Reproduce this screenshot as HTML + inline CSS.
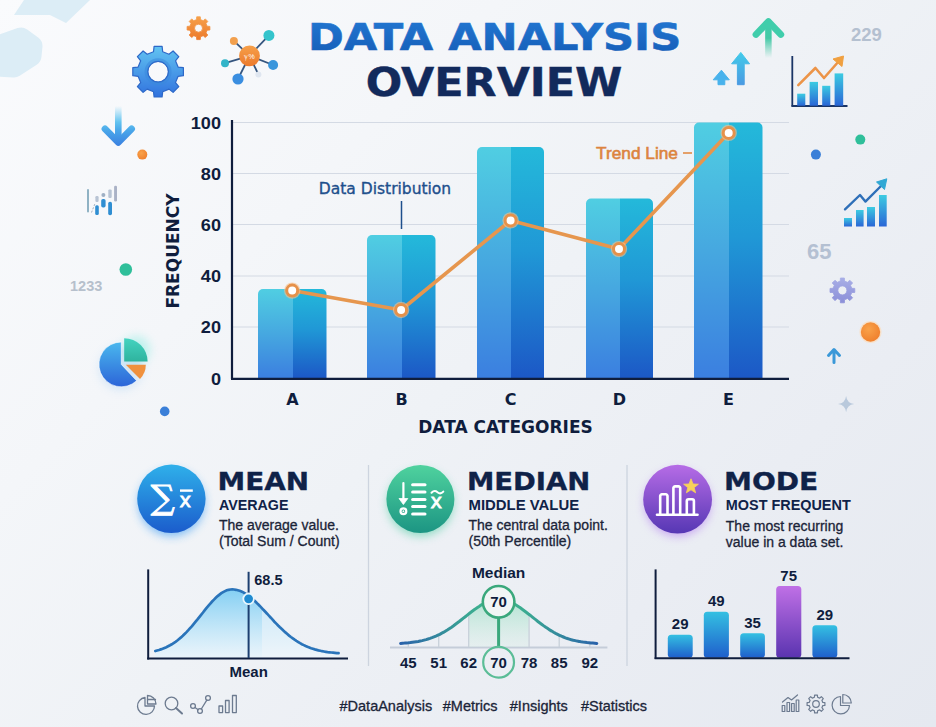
<!DOCTYPE html>
<html><head><meta charset="utf-8"><title>Data Analysis Overview</title>
<style>
html,body{margin:0;padding:0;}
body{width:936px;height:727px;overflow:hidden;background:#eef1f5;}
#root{position:relative;width:936px;height:727px;overflow:hidden;
 background:linear-gradient(135deg,#fafbfd 0%,#f4f6f9 30%,#eff2f6 50%,#eaedf3 75%,#e5e9f0 100%);}
svg{position:absolute;left:0;top:0;}
.h{font-family:"DejaVu Sans",sans-serif;font-weight:700;}
.l{font-family:"Liberation Sans",sans-serif;}
</style></head>
<body><div id="root">
<svg width="936" height="727" viewBox="0 0 936 727">
<defs>
 <linearGradient id="tg" gradientUnits="userSpaceOnUse" x1="0" y1="-28" x2="0" y2="0"><stop offset="0" stop-color="#2174cf"/><stop offset="1" stop-color="#1762bc"/></linearGradient>
 <linearGradient id="barL" x1="0" y1="0" x2="0" y2="1"><stop offset="0" stop-color="#50cee2"/><stop offset="0.5" stop-color="#46a8e0"/><stop offset="1" stop-color="#3b7fe0"/></linearGradient>
 <linearGradient id="barR" x1="0" y1="0" x2="0" y2="1"><stop offset="0" stop-color="#24b9da"/><stop offset="0.45" stop-color="#2098d6"/><stop offset="1" stop-color="#1c58c6"/></linearGradient>
 <linearGradient id="gBlue" x1="0" y1="0" x2="0" y2="1"><stop offset="0" stop-color="#2fb0ea"/><stop offset="1" stop-color="#1b5ccc"/></linearGradient>
 <linearGradient id="gGreen" x1="0" y1="0" x2="0" y2="1"><stop offset="0" stop-color="#4fd29e"/><stop offset="1" stop-color="#1c9583"/></linearGradient>
 <linearGradient id="gPurple" x1="0" y1="0" x2="0" y2="1"><stop offset="0" stop-color="#b66ce6"/><stop offset="1" stop-color="#5637b4"/></linearGradient>
 <linearGradient id="mbar" x1="0" y1="0" x2="0" y2="1"><stop offset="0" stop-color="#34c0e2"/><stop offset="1" stop-color="#1f5fcc"/></linearGradient>
 <linearGradient id="mbarP" x1="0" y1="0" x2="0" y2="1"><stop offset="0" stop-color="#c070e6"/><stop offset="1" stop-color="#5a34b0"/></linearGradient>
 <linearGradient id="icoBar" x1="0" y1="0" x2="0" y2="1"><stop offset="0" stop-color="#3ccbe2"/><stop offset="1" stop-color="#2a66d6"/></linearGradient>
 <linearGradient id="gearB" x1="0" y1="0" x2="0" y2="1"><stop offset="0" stop-color="#62c4f2"/><stop offset="1" stop-color="#3172de"/></linearGradient>
 <linearGradient id="gearO" x1="0" y1="0" x2="0" y2="1"><stop offset="0" stop-color="#f6a04a"/><stop offset="1" stop-color="#ec7a2c"/></linearGradient>
 <linearGradient id="arrG" gradientUnits="userSpaceOnUse" x1="0" y1="22" x2="0" y2="58"><stop offset="0" stop-color="#40cdab"/><stop offset="0.45" stop-color="#44c9a6"/><stop offset="1" stop-color="#5ccdb0" stop-opacity="0"/></linearGradient>
 <linearGradient id="arrB" x1="0" y1="0" x2="0" y2="1"><stop offset="0" stop-color="#42cbea"/><stop offset="1" stop-color="#4a9ae2"/></linearGradient>
 <linearGradient id="arrD" gradientUnits="userSpaceOnUse" x1="0" y1="106" x2="0" y2="146"><stop offset="0" stop-color="#6ccaf2" stop-opacity="0"/><stop offset="0.4" stop-color="#64c4f0"/><stop offset="0.6" stop-color="#4aa8ea"/><stop offset="1" stop-color="#3a80e0"/></linearGradient>
 <linearGradient id="bellB" x1="0" y1="0" x2="0" y2="1"><stop offset="0" stop-color="#78cbf2" stop-opacity="0.85"/><stop offset="1" stop-color="#e6f3fb" stop-opacity="0.5"/></linearGradient>
 <linearGradient id="bellB2" x1="0" y1="0" x2="0" y2="1"><stop offset="0" stop-color="#c4e6f8"/><stop offset="1" stop-color="#eef5fa"/></linearGradient>
 <linearGradient id="bellG" x1="0" y1="0" x2="0" y2="1"><stop offset="0" stop-color="#7ed9b4" stop-opacity="0.55"/><stop offset="1" stop-color="#cdeedd" stop-opacity="0.2"/></linearGradient>
 <linearGradient id="medCurve" x1="0" y1="0" x2="1" y2="0"><stop offset="0" stop-color="#2a62aa"/><stop offset="0.35" stop-color="#3aa892"/><stop offset="0.5" stop-color="#3fba8a"/><stop offset="0.65" stop-color="#3aa892"/><stop offset="1" stop-color="#2a62aa"/></linearGradient>
 <linearGradient id="pieB" x1="0" y1="0" x2="0" y2="1"><stop offset="0" stop-color="#4ab8ee"/><stop offset="1" stop-color="#2c64d8"/></linearGradient>
 <linearGradient id="pieT" x1="0" y1="0" x2="0" y2="1"><stop offset="0" stop-color="#44d3c0"/><stop offset="1" stop-color="#2fb39e"/></linearGradient>
 <linearGradient id="gearP" x1="0" y1="0" x2="0" y2="1"><stop offset="0" stop-color="#a8aee6"/><stop offset="1" stop-color="#8b8fd8"/></linearGradient>
 <radialGradient id="dotO" cx="0.4" cy="0.35" r="0.7"><stop offset="0" stop-color="#f9a24a"/><stop offset="1" stop-color="#ef7f2c"/></radialGradient>
 <filter id="sh" x="-50%" y="-50%" width="200%" height="200%"><feGaussianBlur stdDeviation="5"/></filter>
 <filter id="blur2" x="-50%" y="-50%" width="200%" height="200%"><feGaussianBlur stdDeviation="2"/></filter>
</defs>

<!-- faint top-left shapes -->
<path d="M24 0 L90 0 L66 23 L50 15 L14 15 Z" fill="#dcedf6"/>
<path d="M-2 46 L21 38 L32 46 L31 56 L14 67 L-2 66 Z" fill="#dcedf6" stroke="#dcedf6" stroke-width="21" stroke-linejoin="round"/>


<!-- DECORATIONS top-left -->
<path d="M153.5 51.7 L154.1 46.4 L162.1 46.4 L162.7 51.7 L169.0 54.3 L173.1 51.0 L178.8 56.7 L175.5 60.8 L178.1 67.1 L183.4 67.7 L183.4 75.7 L178.1 76.3 L175.5 82.6 L178.8 86.7 L173.1 92.4 L169.0 89.1 L162.7 91.7 L162.1 97.0 L154.1 97.0 L153.5 91.7 L147.2 89.1 L143.1 92.4 L137.4 86.7 L140.7 82.6 L138.1 76.3 L132.8 75.7 L132.8 67.7 L138.1 67.1 L140.7 60.8 L137.4 56.7 L143.1 51.0 L147.2 54.3 Z M168.4 71.7 a10.3 10.3 0 1 0 -20.6 0 a10.3 10.3 0 1 0 20.6 0 Z" fill="url(#gearB)" fill-rule="evenodd" stroke="#2d68c8" stroke-width="1.2" stroke-linejoin="round"/>
<circle cx="158.1" cy="71.7" r="12" fill="none" stroke="#3a88dc" stroke-width="3" opacity="0.55"/>
<circle cx="158.1" cy="71.7" r="10.3" fill="none" stroke="#2d68c8" stroke-width="0.8" opacity="0.7"/>
<path d="M196.5 19.6 L196.7 16.8 L200.3 16.8 L200.5 19.6 L203.2 20.7 L205.3 18.9 L207.8 21.4 L206.0 23.5 L207.1 26.2 L209.9 26.4 L209.9 30.0 L207.1 30.2 L206.0 32.9 L207.8 35.0 L205.3 37.5 L203.2 35.7 L200.5 36.8 L200.3 39.6 L196.7 39.6 L196.5 36.8 L193.8 35.7 L191.7 37.5 L189.2 35.0 L191.0 32.9 L189.9 30.2 L187.1 30.0 L187.1 26.4 L189.9 26.2 L191.0 23.5 L189.2 21.4 L191.7 18.9 L193.8 20.7 Z M202.5 28.2 a4.0 4.0 0 1 0 -8.0 0 a4.0 4.0 0 1 0 8.0 0 Z" fill="url(#gearO)" fill-rule="evenodd" stroke="url(#gearO)" stroke-width="0.8" stroke-linejoin="round"/>
<!-- network -->
<g stroke="#35557f" stroke-width="1.8">
 <line x1="249.5" y1="55.8" x2="233.9" y2="40.9"/><line x1="249.5" y1="55.8" x2="268.9" y2="35.4"/>
 <line x1="249.5" y1="55.8" x2="225" y2="63.2"/><line x1="249.5" y1="55.8" x2="273.1" y2="65"/>
 <line x1="249.5" y1="55.8" x2="238" y2="79"/><line x1="249.5" y1="55.8" x2="258.4" y2="74.5"/>
</g>
<circle cx="233.9" cy="40.9" r="4" fill="#f2a04e"/>
<circle cx="268.9" cy="35.4" r="5.5" fill="#35c4cc"/>
<circle cx="225" cy="63.2" r="4" fill="#32b4c8"/>
<circle cx="273.1" cy="65" r="5" fill="#3a96dc"/>
<circle cx="238" cy="79" r="5.6" fill="#3a8ee0"/>
<circle cx="258.4" cy="74.5" r="3" fill="#dfe6f0"/>
<circle cx="249.5" cy="55.8" r="10.4" fill="url(#gearO)"/>
<text x="249.5" y="58.8" text-anchor="middle" class="l" font-size="7" fill="#fff">ℽ%</text>
<!-- down arrow -->
<path d="M118.3 106 V140" fill="none" stroke="url(#arrD)" stroke-width="6.6"/>
<path d="M105 128.8 L118.3 142.3 L131.6 128.8" fill="none" stroke="url(#arrD)" stroke-width="6.8" stroke-linecap="round" stroke-linejoin="round"/>
<path d="M111.5 135.5 L118.3 142.3 L125.1 135.5 Z" fill="url(#arrD)"/>
<circle cx="142.3" cy="154.6" r="5" fill="url(#dotO)"/>
<!-- small bar icon -->
<line x1="88" y1="190" x2="88" y2="211.5" stroke="#8fb2c4" stroke-width="2" stroke-linecap="round"/>
<rect x="95.4" y="196" width="3.2" height="6" rx="1.2" fill="#b8c4d4"/>
<rect x="95.2" y="205.3" width="3.6" height="9.8" rx="1.5" fill="#2f8ed2"/>
<circle cx="103.4" cy="195" r="2" fill="#9fb0c4"/>
<rect x="101.2" y="199" width="4.4" height="8.5" rx="1.8" fill="#2f8ed2"/>
<rect x="108.3" y="189.4" width="3.4" height="8.6" rx="1.2" fill="#b8c4d4"/>
<rect x="108.2" y="201.7" width="3.8" height="13.5" rx="1.8" fill="#2f8ed2"/>
<rect x="114.1" y="185.8" width="2.9" height="15.7" rx="1.3" fill="#aab2c6"/>
<line x1="91.5" y1="212.5" x2="95" y2="203.5" stroke="#a0b0c0" stroke-width="1" stroke-dasharray="2 1.5"/>
<!-- left numbers & dots -->
<circle cx="125.8" cy="269.5" r="6.3" fill="#2fbf9a"/>
<text x="70" y="291" class="l" font-size="14.5" font-weight="700" fill="#b6c0cc">1233</text>
<!-- pie -->
<circle cx="136" cy="350" r="14" fill="#5ee8d8" opacity="0.35" filter="url(#sh)"/>
<circle cx="121" cy="368" r="22" fill="#7ab8f0" opacity="0.25" filter="url(#sh)"/>
<path d="M121.3 364.4 L121.3 342 A22.4 22.4 0 1 0 136.6 380.8 Z" fill="url(#pieB)" stroke="#fff" stroke-width="0.6"/>
<path d="M124.2 361.5 L124.2 338.2 A23.4 23.4 0 0 1 147.6 361.5 Z" fill="url(#pieT)"/>
<path d="M125.8 364.8 L145.8 364.8 A20 20 0 0 1 140 378.9 Z" fill="#f0913e"/>
<circle cx="164.7" cy="411.4" r="4.8" fill="#3a7fd8"/>

<!-- DECORATIONS top-right -->
<path d="M768.4 58 V26" fill="none" stroke="url(#arrG)" stroke-width="6.5"/>
<path d="M756 34.5 L768.4 21.5 L780.8 34.5" fill="none" stroke="#40cdab" stroke-width="6.8" stroke-linecap="round" stroke-linejoin="round"/>
<path d="M762 28 L768.4 21.5 L774.8 28 Z" fill="#40cdab"/>
<path d="M740.8 52.4 L749.6 63.8 L744.2 63.8 L744.2 84.7 L737.4 84.7 L737.4 63.8 L731.6 63.8 Z" fill="url(#arrB)" stroke="url(#arrB)" stroke-width="1" stroke-linejoin="round"/>
<path d="M721.4 70.2 L729.3 79.8 L724.8 79.8 L724.8 84.7 L718 84.7 L718 79.8 L713.2 79.8 Z" fill="#48b2ec" stroke="#48b2ec" stroke-width="1" stroke-linejoin="round"/>
<text x="851" y="41.3" class="l" font-size="18.5" font-weight="700" fill="#b4c0d0">229</text>
<line x1="792.3" y1="56" x2="792.3" y2="106.5" stroke="#1a3566" stroke-width="1.8"/>
<line x1="791.5" y1="106" x2="847.5" y2="106" stroke="#1a3566" stroke-width="1.8"/>
<rect x="797.2" y="93.7" width="8.1" height="12" fill="url(#icoBar)"/>
<rect x="809.6" y="81.9" width="8.4" height="23.8" fill="url(#icoBar)"/>
<rect x="822.2" y="85.8" width="8.1" height="19.9" fill="url(#icoBar)"/>
<rect x="834.6" y="73.4" width="8.6" height="32.3" fill="url(#icoBar)"/>
<polyline points="798.3,85.1 815.4,68 824,78 839,61" fill="none" stroke="#ec9448" stroke-width="2.6" stroke-linejoin="round" stroke-linecap="round"/>
<path d="M843.5 56 L842 66.5 L833 59 Z" fill="#f0a040" stroke="#f0a040" stroke-width="1" stroke-linejoin="round"/>

<!-- right side -->
<circle cx="860.3" cy="139.6" r="5" fill="#2fbf9a"/>
<circle cx="815.9" cy="154.6" r="5" fill="#3a7fd8"/>
<rect x="844" y="218" width="8" height="8.5" fill="url(#icoBar)"/>
<rect x="856" y="210" width="7.6" height="16.5" fill="url(#icoBar)"/>
<rect x="867" y="207" width="8" height="19.5" fill="url(#icoBar)"/>
<rect x="879" y="195" width="7.7" height="31.5" fill="url(#icoBar)"/>
<polyline points="845,209.3 860,195 865.4,201.6 881,186" fill="none" stroke="#2e6fb8" stroke-width="2.4" stroke-linejoin="round" stroke-linecap="round"/>
<path d="M886.8 178.8 L884.5 189.5 L876.5 182 Z" fill="#30a8d4" stroke="#30a8d4" stroke-width="1" stroke-linejoin="round"/>
<text x="807" y="259" class="l" font-size="22" font-weight="700" fill="#b4c0d2">65</text>
<path d="M840.3 281.0 L840.4 278.0 L844.4 278.0 L844.5 281.0 L847.5 282.3 L849.8 280.2 L852.6 283.0 L850.5 285.3 L851.8 288.3 L854.8 288.4 L854.8 292.4 L851.8 292.5 L850.5 295.5 L852.6 297.8 L849.8 300.6 L847.5 298.5 L844.5 299.8 L844.4 302.8 L840.4 302.8 L840.3 299.8 L837.3 298.5 L835.0 300.6 L832.2 297.8 L834.3 295.5 L833.0 292.5 L830.0 292.4 L830.0 288.4 L833.0 288.3 L834.3 285.3 L832.2 283.0 L835.0 280.2 L837.3 282.3 Z M846.9 290.4 a4.5 4.5 0 1 0 -9.0 0 a4.5 4.5 0 1 0 9.0 0 Z" fill="url(#gearP)" fill-rule="evenodd" stroke="url(#gearP)" stroke-width="0.8" stroke-linejoin="round"/>
<circle cx="870.5" cy="332" r="11" fill="#ffd9b0" opacity="0.6"/>
<circle cx="870.5" cy="332" r="9.7" fill="url(#dotO)"/>
<path d="M834 362.5 V351 M828.5 355.5 L834 349.5 L839.5 355.5" fill="none" stroke="#3a98d8" stroke-width="3" stroke-linecap="round" stroke-linejoin="round"/>
<path d="M846.1 396 Q847 403.2 854.2 404.1 Q847 405 846.1 412.2 Q845.2 405 838 404.1 Q845.2 403.2 846.1 396 Z" fill="#b9c9dc"/>

<!-- TITLE -->
<text transform="translate(494.6 49.8) scale(1.15 1)" text-anchor="middle" class="h" font-size="37.5" stroke="url(#tg)" stroke-width="0.6" fill="url(#tg)">DATA ANALYSIS</text>
<text transform="translate(494.1 96.2) scale(1.1 1)" text-anchor="middle" class="h" font-size="39" stroke="#122a5c" stroke-width="0.4" fill="#122a5c">OVERVIEW</text>

<!-- MAIN CHART -->
<g stroke="#d4dae4" stroke-width="1.15">
 <line x1="232" y1="122.5" x2="789" y2="122.5"/>
 <line x1="232" y1="173.5" x2="789" y2="173.5"/>
 <line x1="232" y1="224.5" x2="789" y2="224.5"/>
 <line x1="232" y1="276" x2="789" y2="276"/>
 <line x1="232" y1="327" x2="789" y2="327"/>
</g>
<g id="bars">
 <path d="M258 378 V294 a5 5 0 0 1 5 -5 H293 V378 Z" fill="url(#barL)"/>
 <path d="M293 378 V289 H321.5 a5 5 0 0 1 5 5 V378 Z" fill="url(#barR)"/>
 <path d="M367 378 V240 a5 5 0 0 1 5 -5 H402 V378 Z" fill="url(#barL)"/>
 <path d="M402 378 V235 H430.5 a5 5 0 0 1 5 5 V378 Z" fill="url(#barR)"/>
 <path d="M477 378 V152 a5 5 0 0 1 5 -5 H511 V378 Z" fill="url(#barL)"/>
 <path d="M511 378 V147 H539 a5 5 0 0 1 5 5 V378 Z" fill="url(#barR)"/>
 <path d="M586 378 V203.5 a5 5 0 0 1 5 -5 H620 V378 Z" fill="url(#barL)"/>
 <path d="M620 378 V198.5 H648 a5 5 0 0 1 5 5 V378 Z" fill="url(#barR)"/>
 <path d="M694 378 V127.5 a5 5 0 0 1 5 -5 H729 V378 Z" fill="url(#barL)"/>
 <path d="M729 378 V122.5 H757.5 a5 5 0 0 1 5 5 V378 Z" fill="url(#barR)"/>
</g>
<line x1="232" y1="120" x2="232" y2="379" stroke="#0f1d3d" stroke-width="2.2"/>
<line x1="231" y1="378.8" x2="789" y2="378.8" stroke="#0f1d3d" stroke-width="2.2"/>
<!-- y labels -->
<g class="l" font-weight="700" font-size="16.5" fill="#0f1d3d" text-anchor="end">
 <text transform="translate(221 128.6) scale(1.1 1)">100</text>
 <text transform="translate(221 179.6) scale(1.1 1)">80</text>
 <text transform="translate(221 230.7) scale(1.1 1)">60</text>
 <text transform="translate(221 282.2) scale(1.1 1)">40</text>
 <text transform="translate(221 333.3) scale(1.1 1)">20</text>
 <text transform="translate(221 384.5) scale(1.1 1)">0</text>
</g>
<text transform="translate(179 251) rotate(-90)" text-anchor="middle" class="h" font-size="17" fill="#0f1d3d">FREQUENCY</text>
<g class="h" font-size="16" fill="#0f1d3d" text-anchor="middle">
 <text x="292.5" y="405">A</text><text x="401.5" y="405">B</text><text x="510.5" y="405">C</text><text x="619.5" y="405">D</text><text x="728.5" y="405">E</text>
</g>
<text x="505.5" y="433" text-anchor="middle" class="h" font-size="17" fill="#0f1d3d">DATA CATEGORIES</text>
<text x="385" y="194" text-anchor="middle" font-family="DejaVu Sans" font-size="15.5" fill="#1d4f8c" stroke="#1d4f8c" stroke-width="0.35">Data Distribution</text>
<line x1="401.5" y1="201" x2="401.5" y2="229" stroke="#1d4f8c" stroke-width="1.5"/>
<text x="596" y="158.5" class="l" font-size="17.3" fill="#dc843e" stroke="#dc843e" stroke-width="0.6">Trend Line</text>
<line x1="683" y1="153" x2="692" y2="153" stroke="#e0843a" stroke-width="1.5"/>
<!-- trend line -->
<polyline points="292.2,290.6 401.1,310 510.6,220.4 619,249.1 728.7,132.9" fill="none" stroke="#e6964e" stroke-width="3.6" stroke-linejoin="round"/>
<g fill="#f9c08a" opacity="0.6"><circle cx="292.2" cy="290.6" r="8.2"/><circle cx="401.1" cy="310" r="8.2"/><circle cx="510.6" cy="220.4" r="8.2"/><circle cx="619" cy="249.1" r="8.2"/><circle cx="728.7" cy="132.9" r="8.2"/></g>
<g fill="#fff" stroke="#e6914a" stroke-width="3">
 <circle cx="292.2" cy="290.6" r="5.5"/><circle cx="401.1" cy="310" r="5.5"/><circle cx="510.6" cy="220.4" r="5.5"/><circle cx="619" cy="249.1" r="5.5"/><circle cx="728.7" cy="132.9" r="5.5"/>
</g>

<!-- BOTTOM PANELS -->
<line x1="368.5" y1="465" x2="368.5" y2="666" stroke="#cdd4df" stroke-width="1.3"/>
<line x1="627" y1="465" x2="627" y2="666" stroke="#cdd4df" stroke-width="1.3"/>

<!-- MEAN -->
<circle cx="171.5" cy="503" r="33" fill="#2f95f2" opacity="0.6" filter="url(#sh)"/>
<circle cx="171.4" cy="498.8" r="34.2" fill="url(#gBlue)"/>
<text x="150.8" y="509" font-family="DejaVu Serif" font-size="33.5" fill="#fff" stroke="#fff" stroke-width="0.9">∑</text>
<line x1="180" y1="490.6" x2="192.8" y2="490.6" stroke="#fff" stroke-width="2.4"/>
<text x="179.5" y="507" font-family="DejaVu Sans" font-size="19.5" fill="#fff" stroke="#fff" stroke-width="0.8">x</text>
<text transform="translate(217.5 490) scale(1.1 1)" class="h" font-size="25.3" fill="#0f2248" stroke="#0f2248" stroke-width="0.35">MEAN</text>
<text transform="translate(219 510) scale(1.02 1)" class="l" font-weight="700" font-size="14" fill="#0f2248">AVERAGE</text>
<text x="219" y="529.7" class="l" font-size="14" fill="#1b2438" stroke="#1b2438" stroke-width="0.3">The average value.</text>
<text x="219" y="545.7" class="l" font-size="14" fill="#1b2438" stroke="#1b2438" stroke-width="0.3">(Total Sum / Count)</text>

<!-- MEDIAN -->
<circle cx="420.4" cy="503" r="33" fill="#3cc898" opacity="0.55" filter="url(#sh)"/>
<circle cx="420.4" cy="499" r="34" fill="url(#gGreen)"/>
<text transform="translate(467 490) scale(1.085 1)" class="h" font-size="25.3" fill="#0f2248" stroke="#0f2248" stroke-width="0.35">MEDIAN</text>
<text transform="translate(468.5 510) scale(1.065 1)" class="l" font-weight="700" font-size="14" fill="#0f2248">MIDDLE VALUE</text>
<text x="468.5" y="529.7" class="l" font-size="14" fill="#1b2438" stroke="#1b2438" stroke-width="0.3">The central data point.</text>
<text x="468.5" y="545.7" class="l" font-size="14" fill="#1b2438" stroke="#1b2438" stroke-width="0.3">(50th Percentile)</text>

<!-- MODE -->
<circle cx="677.6" cy="503" r="33" fill="#a866ee" opacity="0.55" filter="url(#sh)"/>
<circle cx="677.6" cy="499.2" r="34.4" fill="url(#gPurple)"/>
<text transform="translate(724 490) scale(1.11 1)" class="h" font-size="25.3" fill="#0f2248" stroke="#0f2248" stroke-width="0.35">MODE</text>
<text transform="translate(725.8 510.1) scale(1.03 1)" class="l" font-weight="700" font-size="14" fill="#0f2248">MOST FREQUENT</text>
<text x="725.8" y="530.5" class="l" font-size="14" fill="#1b2438" stroke="#1b2438" stroke-width="0.3">The most recurring</text>
<text x="725.8" y="546.5" class="l" font-size="14" fill="#1b2438" stroke="#1b2438" stroke-width="0.3">value in a data set.</text>


<!-- mean icon: replaced -->
<!-- MEAN mini chart -->
<clipPath id="cpL"><rect x="150" y="560" width="112" height="100"/></clipPath>
<path d="M155.3 651.0 L157.1 650.5 L159.0 650.0 L160.8 649.4 L162.6 648.8 L164.5 648.0 L166.3 647.2 L168.1 646.3 L170.0 645.3 L171.8 644.3 L173.6 643.1 L175.5 641.8 L177.3 640.5 L179.1 639.0 L181.0 637.4 L182.8 635.8 L184.6 634.0 L186.5 632.1 L188.3 630.2 L190.1 628.2 L192.0 626.1 L193.8 623.9 L195.6 621.7 L197.5 619.4 L199.3 617.1 L201.1 614.8 L203.0 612.5 L204.8 610.2 L206.6 607.9 L208.5 605.7 L210.3 603.6 L212.1 601.5 L214.0 599.6 L215.8 597.8 L217.6 596.1 L219.5 594.6 L221.3 593.2 L223.1 592.1 L225.0 591.1 L226.8 590.3 L228.6 589.8 L230.5 589.5 L232.3 589.4 L234.1 589.5 L236.0 589.8 L237.8 590.2 L239.6 590.8 L241.5 591.5 L243.3 592.4 L245.1 593.5 L247.0 594.7 L248.8 596.0 L250.6 597.4 L252.4 598.9 L254.3 600.6 L256.1 602.3 L257.9 604.1 L259.8 605.9 L261.6 607.8 L263.4 609.8 L265.3 611.8 L267.1 613.7 L268.9 615.7 L270.8 617.7 L272.6 619.7 L274.4 621.7 L276.3 623.6 L278.1 625.5 L279.9 627.3 L281.8 629.1 L283.6 630.8 L285.4 632.4 L287.3 634.0 L289.1 635.6 L290.9 637.0 L292.8 638.4 L294.6 639.7 L296.4 640.9 L298.3 642.1 L300.1 643.2 L301.9 644.2 L303.8 645.1 L305.6 646.0 L307.4 646.8 L309.3 647.5 L311.1 648.2 L312.9 648.8 L314.8 649.4 L316.6 649.9 L318.4 650.4 L320.3 650.8 L322.1 651.2 L323.9 651.5 L325.8 651.8 L327.6 652.1 L329.4 652.3 L331.3 652.5 L333.1 652.7 L334.9 652.9 L336.8 653.1 L338.6 653.2 L338.6 658 L155.3 658 Z" fill="url(#bellB2)"/>
<path d="M155.3 651.0 L157.1 650.5 L159.0 650.0 L160.8 649.4 L162.6 648.8 L164.5 648.0 L166.3 647.2 L168.1 646.3 L170.0 645.3 L171.8 644.3 L173.6 643.1 L175.5 641.8 L177.3 640.5 L179.1 639.0 L181.0 637.4 L182.8 635.8 L184.6 634.0 L186.5 632.1 L188.3 630.2 L190.1 628.2 L192.0 626.1 L193.8 623.9 L195.6 621.7 L197.5 619.4 L199.3 617.1 L201.1 614.8 L203.0 612.5 L204.8 610.2 L206.6 607.9 L208.5 605.7 L210.3 603.6 L212.1 601.5 L214.0 599.6 L215.8 597.8 L217.6 596.1 L219.5 594.6 L221.3 593.2 L223.1 592.1 L225.0 591.1 L226.8 590.3 L228.6 589.8 L230.5 589.5 L232.3 589.4 L234.1 589.5 L236.0 589.8 L237.8 590.2 L239.6 590.8 L241.5 591.5 L243.3 592.4 L245.1 593.5 L247.0 594.7 L248.8 596.0 L250.6 597.4 L252.4 598.9 L254.3 600.6 L256.1 602.3 L257.9 604.1 L259.8 605.9 L261.6 607.8 L263.4 609.8 L265.3 611.8 L267.1 613.7 L268.9 615.7 L270.8 617.7 L272.6 619.7 L274.4 621.7 L276.3 623.6 L278.1 625.5 L279.9 627.3 L281.8 629.1 L283.6 630.8 L285.4 632.4 L287.3 634.0 L289.1 635.6 L290.9 637.0 L292.8 638.4 L294.6 639.7 L296.4 640.9 L298.3 642.1 L300.1 643.2 L301.9 644.2 L303.8 645.1 L305.6 646.0 L307.4 646.8 L309.3 647.5 L311.1 648.2 L312.9 648.8 L314.8 649.4 L316.6 649.9 L318.4 650.4 L320.3 650.8 L322.1 651.2 L323.9 651.5 L325.8 651.8 L327.6 652.1 L329.4 652.3 L331.3 652.5 L333.1 652.7 L334.9 652.9 L336.8 653.1 L338.6 653.2 L338.6 658 L155.3 658 Z" fill="url(#bellB)" clip-path="url(#cpL)"/>
<path d="M155.3 651.0 L157.1 650.5 L159.0 650.0 L160.8 649.4 L162.6 648.8 L164.5 648.0 L166.3 647.2 L168.1 646.3 L170.0 645.3 L171.8 644.3 L173.6 643.1 L175.5 641.8 L177.3 640.5 L179.1 639.0 L181.0 637.4 L182.8 635.8 L184.6 634.0 L186.5 632.1 L188.3 630.2 L190.1 628.2 L192.0 626.1 L193.8 623.9 L195.6 621.7 L197.5 619.4 L199.3 617.1 L201.1 614.8 L203.0 612.5 L204.8 610.2 L206.6 607.9 L208.5 605.7 L210.3 603.6 L212.1 601.5 L214.0 599.6 L215.8 597.8 L217.6 596.1 L219.5 594.6 L221.3 593.2 L223.1 592.1 L225.0 591.1 L226.8 590.3 L228.6 589.8 L230.5 589.5 L232.3 589.4 L234.1 589.5 L236.0 589.8 L237.8 590.2 L239.6 590.8 L241.5 591.5 L243.3 592.4 L245.1 593.5 L247.0 594.7 L248.8 596.0 L250.6 597.4 L252.4 598.9 L254.3 600.6 L256.1 602.3 L257.9 604.1 L259.8 605.9 L261.6 607.8 L263.4 609.8 L265.3 611.8 L267.1 613.7 L268.9 615.7 L270.8 617.7 L272.6 619.7 L274.4 621.7 L276.3 623.6 L278.1 625.5 L279.9 627.3 L281.8 629.1 L283.6 630.8 L285.4 632.4 L287.3 634.0 L289.1 635.6 L290.9 637.0 L292.8 638.4 L294.6 639.7 L296.4 640.9 L298.3 642.1 L300.1 643.2 L301.9 644.2 L303.8 645.1 L305.6 646.0 L307.4 646.8 L309.3 647.5 L311.1 648.2 L312.9 648.8 L314.8 649.4 L316.6 649.9 L318.4 650.4 L320.3 650.8 L322.1 651.2 L323.9 651.5 L325.8 651.8 L327.6 652.1 L329.4 652.3 L331.3 652.5 L333.1 652.7 L334.9 652.9 L336.8 653.1 L338.6 653.2" fill="none" stroke="#2a74ba" stroke-width="2.7" stroke-linecap="round"/>
<line x1="148.2" y1="569.4" x2="148.2" y2="659.5" stroke="#0f1d3d" stroke-width="2"/>
<line x1="147.2" y1="658.5" x2="348" y2="658.5" stroke="#0f1d3d" stroke-width="2"/>
<line x1="248.6" y1="571.8" x2="248.6" y2="658" stroke="#1d3f70" stroke-width="2"/>
<circle cx="248.6" cy="598.8" r="5.3" fill="#1f8ad0" stroke="#e8f6fd" stroke-width="1.8"/>
<text x="254.3" y="584.7" class="l" font-size="14.5" font-weight="700" fill="#0f1d3d">68.5</text>
<text x="248.7" y="677" text-anchor="middle" class="l" font-size="15" font-weight="700" fill="#0f1d3d">Mean</text>

<!-- MEDIAN mini chart -->
<line x1="390" y1="647.4" x2="607.4" y2="647.4" stroke="#c5cdd9" stroke-width="2"/>
<path d="M468.7 647 L468.7 614.0 L470.2 612.8 L471.7 611.6 L473.2 610.5 L474.7 609.4 L476.2 608.3 L477.8 607.2 L479.3 606.2 L480.8 605.3 L482.3 604.4 L483.8 603.6 L485.3 602.8 L486.8 602.1 L488.3 601.5 L489.8 601.0 L491.4 600.5 L492.9 600.1 L494.4 599.8 L495.9 599.6 L497.4 599.5 L498.9 599.5 L500.4 599.6 L501.9 599.7 L503.4 600.0 L504.9 600.3 L506.4 600.7 L508.0 601.2 L509.5 601.8 L511.0 602.4 L512.5 603.1 L514.0 603.9 L515.5 604.8 L517.0 605.7 L518.5 606.6 L520.0 607.7 L521.6 608.7 L523.1 609.8 L524.6 610.9 L526.1 612.1 L527.6 613.3 L529.1 614.5 L529.1 647 Z" fill="url(#bellG)"/>
<g stroke="#c8d0da" stroke-width="1.3">
 <line x1="408.3" y1="642.8" x2="408.3" y2="647"/><line x1="438.7" y1="634.8" x2="438.7" y2="647"/>
 <line x1="468.7" y1="614" x2="468.7" y2="647"/><line x1="529.1" y1="614.5" x2="529.1" y2="647"/>
 <line x1="559.2" y1="635.2" x2="559.2" y2="647"/><line x1="589.8" y1="642.9" x2="589.8" y2="647"/>
</g>
<path d="M400.6 643.4 L402.6 643.2 L404.5 643.1 L406.5 642.9 L408.4 642.8 L410.4 642.6 L412.4 642.3 L414.3 642.0 L416.3 641.7 L418.3 641.4 L420.2 641.0 L422.2 640.6 L424.1 640.1 L426.1 639.6 L428.1 639.0 L430.0 638.4 L432.0 637.7 L434.0 636.9 L435.9 636.1 L437.9 635.2 L439.8 634.3 L441.8 633.2 L443.8 632.2 L445.7 631.0 L447.7 629.8 L449.6 628.5 L451.6 627.2 L453.6 625.8 L455.5 624.3 L457.5 622.8 L459.5 621.3 L461.4 619.8 L463.4 618.2 L465.3 616.7 L467.3 615.1 L469.3 613.5 L471.2 612.0 L473.2 610.5 L475.2 609.1 L477.1 607.7 L479.1 606.4 L481.0 605.1 L483.0 604.0 L485.0 603.0 L486.9 602.1 L488.9 601.3 L490.9 600.7 L492.8 600.2 L494.8 599.8 L496.7 599.6 L498.7 599.5 L500.7 599.6 L502.6 599.8 L504.6 600.2 L506.5 600.7 L508.5 601.4 L510.5 602.2 L512.4 603.1 L514.4 604.1 L516.4 605.3 L518.3 606.5 L520.3 607.8 L522.2 609.2 L524.2 610.7 L526.2 612.2 L528.1 613.7 L530.1 615.2 L532.1 616.8 L534.0 618.4 L536.0 619.9 L537.9 621.5 L539.9 623.0 L541.9 624.5 L543.8 625.9 L545.8 627.3 L547.8 628.6 L549.7 629.9 L551.7 631.1 L553.6 632.3 L555.6 633.4 L557.6 634.4 L559.5 635.3 L561.5 636.2 L563.4 637.0 L565.4 637.8 L567.4 638.5 L569.3 639.1 L571.3 639.7 L573.3 640.2 L575.2 640.6 L577.2 641.1 L579.1 641.4 L581.1 641.8 L583.1 642.1 L585.0 642.3 L587.0 642.6 L589.0 642.8 L590.9 643.0 L592.9 643.1 L594.8 643.2 L596.8 643.4" fill="none" stroke="url(#medCurve)" stroke-width="3" stroke-linecap="round"/>
<line x1="498.6" y1="617" x2="498.6" y2="647" stroke="#3aa87c" stroke-width="3"/>
<circle cx="498.6" cy="601.8" r="15.8" fill="#f1f5f5" stroke="#3aa87c" stroke-width="2.6"/>
<circle cx="498.6" cy="662.2" r="15.4" fill="none" stroke="#5bbd97" stroke-width="2.2"/>
<text x="498.6" y="578.3" text-anchor="middle" class="l" font-size="15.5" font-weight="700" fill="#0f1d3d">Median</text>
<text x="498.6" y="607.3" text-anchor="middle" class="l" font-size="15" font-weight="700" fill="#0f1d3d">70</text>
<g class="l" font-size="15" font-weight="700" fill="#0f1d3d" text-anchor="middle">
 <text x="408.3" y="667.7">45</text><text x="438.7" y="667.7">51</text><text x="468.7" y="667.7">62</text><text x="498.6" y="667.7">70</text>
 <text x="529.1" y="667.7">78</text><text x="559.2" y="667.7">85</text><text x="589.8" y="667.7">92</text>
</g>

<!-- MODE mini chart -->
<rect x="667.8" y="634.7" width="24.9" height="23" rx="3.5" fill="url(#mbar)"/>
<rect x="703.8" y="611.7" width="25.1" height="46" rx="3.5" fill="url(#mbar)"/>
<rect x="740.2" y="633.3" width="24.7" height="24.4" rx="3.5" fill="url(#mbar)"/>
<rect x="776.2" y="585.9" width="25.1" height="71.8" rx="3.5" fill="url(#mbarP)"/>
<rect x="812.4" y="625.3" width="24.9" height="32.4" rx="3.5" fill="url(#mbar)"/>
<line x1="655.6" y1="569.4" x2="655.6" y2="659" stroke="#0f1d3d" stroke-width="2"/>
<line x1="654.6" y1="658.2" x2="849.5" y2="658.2" stroke="#0f1d3d" stroke-width="2"/>
<g class="l" font-size="15" font-weight="700" fill="#0f1d3d" text-anchor="middle">
 <text x="680.2" y="628.6">29</text><text x="716.3" y="605.5">49</text><text x="752.5" y="627.5">35</text>
 <text x="788.7" y="580.5">75</text><text x="824.8" y="619.5">29</text>
</g>

<!-- MEDIAN icon -->
<g stroke="#fff" stroke-linecap="round" fill="none">
 <line x1="403.4" y1="483" x2="403.4" y2="500" stroke-width="2.2"/>
 <circle cx="403.4" cy="511.2" r="2.9" stroke-width="2.2"/>
 <g stroke-width="3"><line x1="412.6" y1="484.8" x2="425" y2="484.8"/><line x1="412.6" y1="492.1" x2="425" y2="492.1"/>
 <line x1="412.6" y1="499.4" x2="425" y2="499.4"/><line x1="412.6" y1="506.5" x2="425" y2="506.5"/>
 <line x1="412.6" y1="513.9" x2="425" y2="513.9"/></g>
 <path d="M431.5 492.8 q3 -3.2 6 -0.6 t5.8 -0.6" stroke-width="2"/>
</g>
<path d="M399 498.5 L407.8 498.5 L403.4 504.5 Z" fill="#fff" stroke="#fff" stroke-width="0.8" stroke-linejoin="round"/>
<circle cx="403.4" cy="511.2" r="1" fill="#fff"/>
<text x="430.6" y="507.8" font-family="DejaVu Sans" font-size="19.5" fill="#fff" stroke="#fff" stroke-width="0.8">x</text>

<!-- MODE icon -->
<g stroke="#fff" stroke-width="2.6" fill="none" stroke-linejoin="round">
 <line x1="657" y1="514.8" x2="697.5" y2="514.8" stroke-linecap="round"/>
 <path d="M660.2 514.8 V496 a1.7 1.7 0 0 1 1.7 -1.7 H665.8 a1.7 1.7 0 0 1 1.7 1.7 V514.8"/>
 <path d="M673.4 514.8 V488.1 a1.7 1.7 0 0 1 1.7 -1.7 H678.5 a1.7 1.7 0 0 1 1.7 1.7 V514.8"/>
 <path d="M686.8 514.8 V501 a1.7 1.7 0 0 1 1.7 -1.7 H692.2 a1.7 1.7 0 0 1 1.7 1.7 V514.8"/>
</g>
<path d="M691 478.8 L693 484 L698.4 484.2 L694.2 487.6 L695.6 492.8 L691 489.8 L686.4 492.8 L687.8 487.6 L683.6 484.2 L689 484 Z" fill="#f8d25a" stroke="#f8d25a" stroke-width="0.8" stroke-linejoin="round"/>

<!-- FOOTER icons left -->
<g fill="none" stroke="#6d7b90" stroke-width="1.3" stroke-linejoin="round" stroke-linecap="round">
 <path d="M145 697.5 A8.5 8.5 0 1 0 154.5 706 L145 706 Z"/>
 <path d="M147.5 695.5 A8.5 8.5 0 0 1 156 704 L147.5 704 Z"/>
 <path d="M147.5 699.5 L155.5 699.5"/>
 <circle cx="171.5" cy="703.5" r="6.3"/><line x1="176" y1="708" x2="182" y2="713.5" stroke-width="2"/>
 <circle cx="193" cy="706" r="2.4"/><circle cx="200" cy="711" r="2.4"/><circle cx="208" cy="698" r="2.4"/>
 <line x1="195" y1="707.5" x2="198.2" y2="709.7"/><line x1="201.3" y1="709" x2="206.8" y2="700.1"/>
 <rect x="219" y="706" width="3.6" height="6.6"/><rect x="225.5" y="700.5" width="3.6" height="12.1"/><rect x="232.5" y="695.5" width="3.8" height="17.1"/>
</g>
<!-- FOOTER icons right -->
<g fill="none" stroke="#6d7b90" stroke-width="1.2" stroke-linejoin="round" stroke-linecap="round">
 <rect x="782.2" y="705.5" width="2.6" height="6"/><rect x="787" y="702.5" width="2.6" height="9"/><rect x="791.6" y="703.5" width="2.6" height="8"/><rect x="796.2" y="700" width="2.6" height="11.5"/>
 <polyline points="782.5,702 788,697.5 791.5,700 797.5,695"/>
 <path d="M814.4 697.2 L814.6 695.1 L817.4 695.1 L817.6 697.2 L819.7 698.1 L821.3 696.7 L823.3 698.7 L821.9 700.3 L822.8 702.4 L824.9 702.6 L824.9 705.4 L822.8 705.6 L821.9 707.7 L823.3 709.3 L821.3 711.3 L819.7 709.9 L817.6 710.8 L817.4 712.9 L814.6 712.9 L814.4 710.8 L812.3 709.9 L810.7 711.3 L808.7 709.3 L810.1 707.7 L809.2 705.6 L807.1 705.4 L807.1 702.6 L809.2 702.4 L810.1 700.3 L808.7 698.7 L810.7 696.7 L812.3 698.1 Z"/>
 <circle cx="816" cy="704" r="3.3"/>
 <path d="M840.5 696.5 A8.7 8.7 0 1 0 849.5 705.5 L840.5 705.5 Z"/>
 <path d="M842.8 694.5 A8.5 8.5 0 0 1 851.3 703 L842.8 703 Z"/>
</g>

<!-- FOOTER -->
<text x="339.5" y="711.4" class="l" font-size="14.5" fill="#1b2438" stroke="#1b2438" stroke-width="0.3">#DataAnalysis</text>
<text x="442.8" y="711.4" class="l" font-size="14.5" fill="#1b2438" stroke="#1b2438" stroke-width="0.3">#Metrics</text>
<text x="509.8" y="711.4" class="l" font-size="14.5" fill="#1b2438" stroke="#1b2438" stroke-width="0.3">#Insights</text>
<text x="581" y="711.4" class="l" font-size="14.5" fill="#1b2438" stroke="#1b2438" stroke-width="0.3">#Statistics</text>
</svg>
</div></body></html>
